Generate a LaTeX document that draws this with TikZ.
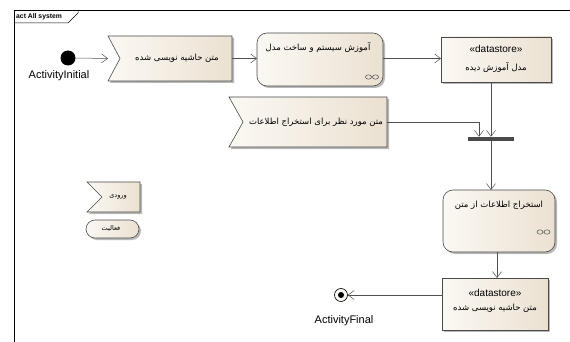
\documentclass[tikz,border=0pt]{standalone}
\usepackage{fontspec}
\setmainfont{Liberation Sans}
\newfontfamily\fafont[Script=Arabic]{DejaVu Sans}
\TeXXeTstate=1
\usetikzlibrary{arrows.meta,shadows,calc}
\definecolor{fillL}{HTML}{FBF8F3}
\definecolor{fillR}{HTML}{EBE1D2}
\definecolor{edge}{HTML}{4A4A4A}
\definecolor{shade}{HTML}{A8A8A8}
\definecolor{wire}{HTML}{505050}
\newcommand\fatxt[1]{{\fafont\fontsize{8.5}{9}\selectfont\beginR #1\endR}}
\newcommand\fasmall[1]{{\fafont\fontsize{6.5}{7}\selectfont\beginR #1\endR}}
\tikzset{
  elem/.style={draw=edge, line width=0.6pt, left color=fillL, right color=fillR,
    drop shadow={shadow xshift=2pt, shadow yshift=-2pt, fill=shade, opacity=0.8}},
  hold/.style={inner sep=0pt, outer sep=0pt},
  flow/.style={draw=wire, line width=0.5pt, -{Straight Barb[length=6pt,width=9pt,line width=0.5pt]}},
  lbl/.style={inner sep=0pt, font=\fontsize{11}{12}\selectfont},
  ster/.style={inner sep=0pt, font=\fontsize{10}{12}\selectfont},
}
\begin{document}
\begin{tikzpicture}[x=1pt,y=-1pt]
\useasboundingbox (0,0) rectangle (570,342);
\fill[white] (0,0) rectangle (570,342);
% frame
\draw[black, line width=0.5pt] (14,342) -- (14,10) -- (570,10);
\draw[black, line width=0.5pt] (14,23) -- (68,23) -- (78,13) -- (78,10);
\node[anchor=west, inner sep=0pt, font=\bfseries\fontsize{6.8}{7}\selectfont] (frm) at (16,16.5) {act All system};

% initial node
\node[circle, fill=black, minimum size=15pt, inner sep=0pt] (ini) at (68,58) {};
\node[lbl] (inil) at (59,76) {ActivityInitial};

% flag 1
\path[elem] (108,36) -- (232,36) -- (232,81) -- (108,81) -- (120,58.5) -- cycle;
\node[hold, minimum width=124pt, minimum height=45pt] (f1) at (170,58.5) {};
\node[inner sep=0pt] (f1t) at (177,58.5) {\fatxt{متن حاشیه نویسی شده}};

% activity 1
\path[elem, rounded corners=10pt] (257,33) rectangle (383,86);
\node[hold, minimum width=126pt, minimum height=53pt] (a1) at (320,59.5) {};
\node[inner sep=0pt] (a1t) at (318,48) {\fatxt{آموزش سیستم و ساخت مدل}};
\draw[edge, line width=0.5pt] (368.5,77) ellipse (3pt and 2.2pt) (375.5,77) ellipse (3pt and 2.2pt) (371.5,77) -- (372.5,77);

% datastore 1
\path[elem] (441,37) rectangle (551,82);
\node[hold, minimum width=110pt, minimum height=45pt] (ds1) at (496,59.5) {};
\node[ster] (ds1s) at (496,49) {«datastore»};
\node[inner sep=0pt] (ds1t) at (496,68) {\fatxt{مدل آموزش دیده}};

% flag 2
\path[elem] (229,97) -- (387,97) -- (387,147) -- (229,147) -- (243,122) -- cycle;
\node[hold, minimum width=158pt, minimum height=50pt] (f2) at (308,122) {};
\node[inner sep=0pt] (f2t) at (316,122) {\fatxt{متن مورد نظر برای استخراج اطلاعات}};

% fork / join bar
\node[hold, fill=edge, minimum width=46pt, minimum height=4.5pt] (bar) at (491,139) {};

% activity 2
\path[elem, rounded corners=10pt] (443,190) rectangle (555,252);
\node[hold, minimum width=112pt, minimum height=62pt] (a2) at (499,221) {};
\node[inner sep=0pt] (a2t) at (499,205) {\fatxt{استخراج اطلاعات از متن}};
\draw[edge, line width=0.5pt] (540,232) ellipse (3pt and 2.2pt) (547,232) ellipse (3pt and 2.2pt) (543,232) -- (544,232);

% datastore 2
\path[elem] (442,278) rectangle (548,330);
\node[hold, minimum width=106pt, minimum height=52pt] (ds2) at (495,304) {};
\node[ster] (ds2s) at (495,293) {«datastore»};
\node[inner sep=0pt] (ds2t) at (495,308.5) {\fatxt{متن حاشیه نویسی شده}};

% final node
\node[circle, draw=black, fill=fillL, line width=0.6pt, minimum size=13pt, inner sep=0pt] (fin) at (341,295) {};
\node[circle, fill=black, minimum size=6pt, inner sep=0pt] (fini) at (fin.center) {};
\node[lbl] (finl) at (344,321) {ActivityFinal};

% legend
\path[elem] (87,182) -- (140,182) -- (140,212) -- (87,212) -- (102,197) -- cycle;
\node[hold, minimum width=53pt, minimum height=30pt] (lg1) at (113.5,197) {};
\node[inner sep=0pt] (lg1t) at (118,197) {\fasmall{ورودی}};
\path[elem, rounded corners=9pt] (86,220) rectangle (139,238);
\node[hold, minimum width=53pt, minimum height=18pt] (lg2) at (112.5,229) {};
\node[inner sep=0pt] (lg2t) at (111,229) {\fasmall{فعالیت}};

% connectors
\draw[flow] (ini.east) -- (f1.west);
\draw[flow] (f1.east) -- (a1.west |- f1.east);
\draw[flow] (a1.east |- f1.east) -- (ds1.west |- f1.east);
\draw[flow] (bar.north |- ds1.south) -- (bar.north);
\draw[flow] (f2.east) -| ($(bar.north)+(-12,0)$);
\draw[flow] (bar.south) -- (bar.south |- a2.north);
\draw[flow] ($(a2.south)+(-2,0)$) -- ($(a2.south |- ds2.north)+(-2,0)$);
\draw[flow] (ds2.west |- fin.east) -- (fin.east);
\end{tikzpicture}
\end{document}
